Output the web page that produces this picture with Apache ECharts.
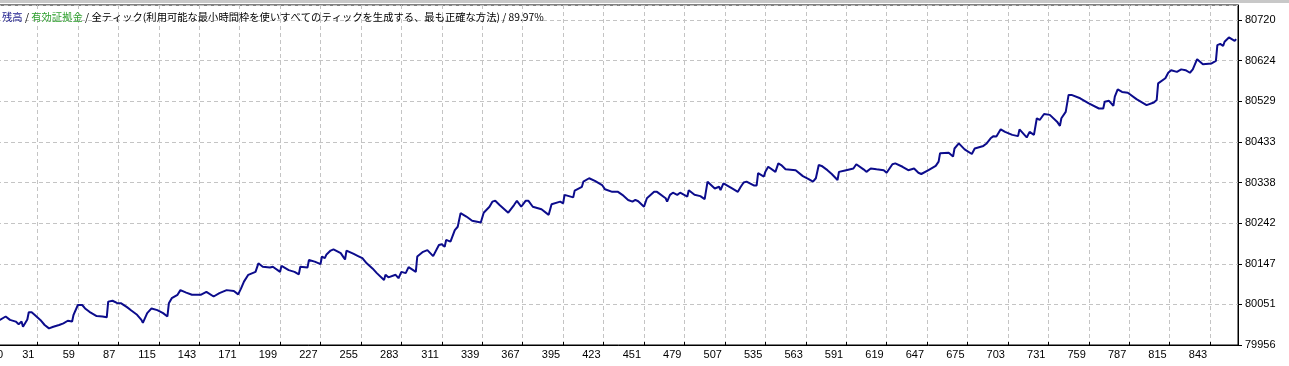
<!DOCTYPE html>
<html>
<head>
<meta charset="utf-8">
<style>
html,body{margin:0;padding:0;background:#fff;}
#chart{width:1289px;height:366px;}
</style>
<script src="https://cdn.jsdelivr.net/npm/echarts@6/dist/echarts.min.js"></script>
</head>
<body>
<div id="chart"></div>
<script>
// Trade numbers (x) and balance values (y)
const trades = [
  0,5,9,12,16,18,20,21,24,25,
  27,29,33,36,39,42,46,49,52,55,
  56,59,62,64,67,72,76,79,80,83,
  86,89,93,96,100,103,104,107,110,114,
  118,121,122,124,128,130,134,138,144,148,
  153,154,157,162,167,170,172,174,177,182,
  184,187,192,194,199,200,205,209,212,213,
  218,219,223,227,228,230,231,234,236,241,
  243,244,245,250,253,256,259,263,266,271,
  272,274,279,281,283,286,288,293,294,298,
  301,305,309,311,313,314,317,320,322,324,
  328,332,338,340,344,346,348,351,357,361,
  363,366,369,371,374,380,385,386,387,393,
  395,396,402,403,408,409,413,417,422,424,
  429,433,436,440,443,445,447,451,453,458,
  460,466,467,469,471,474,476,481,482,486,
  490,493,495,500,503,504,506,512,516,518,
  520,522,527,529,530,534,535,537,542,544,
  546,549,556,561,565,568,570,572,574,578,
  581,585,586,591,596,598,603,605,608,612,
  617,619,623,625,630,634,638,641,643,648,
  653,655,656,662,665,666,669,673,678,680,
  686,688,691,693,695,698,701,706,710,711,
  716,718,721,723,725,728,732,737,739,740,
  743,745,747,753,759,766,769,770,773,776,
  777,779,782,786,792,799,804,806,807,812,
  814,816,820,823,826,829,831,834,836,838,
  844,847,848,850,851,852,853,856,857,860,861
];
const balance = [
  80010,80015,80023,80015,80011,80005,80011,79999,80016,80033,
  80033,80027,80015,80003,79995,79999,80003,80007,80013,80011,
  80027,80050,80050,80042,80034,80024,80023,80021,80058,80060,
  80055,80054,80045,80037,80027,80015,80008,80031,80042,80038,
  80031,80023,80054,80066,80074,80085,80079,80074,80074,80081,
  80070,80067,80078,80085,80083,80075,80089,80105,80121,80128,
  80148,80140,80138,80140,80128,80142,80132,80128,80122,80140,
  80138,80156,80152,80146,80164,80160,80168,80178,80181,80172,
  80162,80157,80178,80170,80165,80160,80148,80136,80125,80109,
  80121,80115,80121,80113,80128,80125,80139,80128,80164,80175,
  80179,80165,80191,80193,80187,80203,80199,80226,80234,80266,
  80258,80248,80244,80267,80281,80293,80295,80285,80267,80285,
  80295,80281,80295,80295,80281,80275,80262,80266,80287,80293,
  80289,80309,80303,80319,80328,80340,80348,80342,80332,80322,
  80316,80316,80309,80297,80293,80297,80294,80281,80301,80316,
  80316,80301,80293,80309,80314,80309,80314,80305,80320,80309,
  80306,80299,80340,80324,80328,80320,80336,80324,80316,80328,
  80338,80340,80331,80331,80360,80352,80363,80375,80363,80383,
  80379,80369,80367,80353,80346,80340,80348,80379,80377,80367,
  80358,80344,80363,80367,80371,80381,80369,80363,80371,80369,
  80367,80361,80381,80383,80375,80367,80371,80361,80358,80367,
  80377,80387,80407,80408,80399,80418,80430,80416,80405,80418,
  80424,80429,80442,80447,80446,80463,80457,80450,80447,80463,
  80444,80457,80450,80489,80485,80499,80497,80481,80471,80489,
  80504,80544,80544,80536,80524,80512,80512,80528,80530,80518,
  80540,80557,80551,80549,80534,80520,80526,80532,80571,80583,
  80596,80602,80598,80604,80602,80596,80604,80628,80622,80616,
  80618,80624,80661,80664,80665,80659,80669,80679,80675,80671,80675
];
// Axis ticks
const xTickStart = 3, xTickStep = 28, xAxisEnd = 862.3;
const xFirstLabel = '0';
const yTickStart = 79956, yTickStep = 95.5, yAxisEnd = 80755.3;
// Header texts
const headerBalance = '残高';
const headerEquity = '有効証拠金';
const headerMode = '全ティック(利用可能な最小時間枠を使いすべてのティックを生成する、最も正確な方法)';
const headerQuality = '89.97%';

const chart = echarts.init(document.getElementById('chart'), null, {renderer: 'canvas'});
const gridLineColor = '#c4c4c4';
const fontFamily = 'Liberation Sans, Arial, sans-serif';
const headerFont = 'Noto Sans CJK JP';
const headerSize = 10.3;

chart.setOption({
  animation: false,
  backgroundColor: '#ffffff',
  title: {
    left: 2, top: 10, padding: 0,
    text: '{n|' + headerBalance + '} / {e|' + headerEquity + '} / ' + headerMode + ' / ' + headerQuality,
    textStyle: {
      fontFamily: headerFont, fontSize: headerSize, fontWeight: 'normal', color: '#000',
      lineHeight: 14,
      rich: {
        n: {color: '#1c1c8c', fontFamily: headerFont, fontSize: headerSize},
        e: {color: '#2ea02e', fontFamily: headerFont, fontSize: headerSize}
      }
    }
  },
  graphic: [
    {type: 'rect', left: 0, top: 0, shape: {width: 1289, height: 3}, style: {fill: '#c8c8c8'}, z: 100}
  ],
  grid: {
    left: -3, right: 51, top: 5, bottom: 21,
    containLabel: false,
    outerBoundsMode: 'none',
    show: true, borderColor: '#000', borderWidth: 1, backgroundColor: '#fff'
  },
  xAxis: {
    type: 'value', min: xTickStart, max: xAxisEnd, interval: xTickStep,
    axisLine: {show: true, lineStyle: {color: '#000', width: 1}},
    axisTick: {show: true, inside: true, length: 3, lineStyle: {color: '#000'}},
    axisLabel: {
      show: true, margin: 4, fontSize: 11, color: '#000', fontFamily: fontFamily,
      align: 'right', padding: [0, 3, 0, 0],
      alignMinLabel: 'left',
      showMinLabel: true, showMaxLabel: false,
      formatter: v => (v === xTickStart ? xFirstLabel : String(Math.round(v)))
    },
    splitLine: {show: true, lineStyle: {color: gridLineColor, type: [4, 3], width: 1}}
  },
  yAxis: {
    type: 'value', position: 'right', min: yTickStart, max: yAxisEnd, interval: yTickStep,
    axisLine: {show: true, lineStyle: {color: '#000', width: 1}},
    axisTick: {show: true, inside: false, length: 4, lineStyle: {color: '#000'}},
    axisLabel: {
      show: true, margin: 7, fontSize: 11, color: '#000', fontFamily: fontFamily,
      showMaxLabel: false, showMinLabel: true,
      formatter: v => String(Math.floor(v + 1e-6))
    },
    splitLine: {show: true, lineStyle: {color: gridLineColor, type: [4, 3], width: 1}}
  },
  series: [{
    type: 'line',
    data: trades.map((t, i) => [t, balance[i]]),
    symbol: 'none',
    lineStyle: {color: '#0c0c8c', width: 2},
    clip: true
  }]
});
</script>
</body>
</html>
